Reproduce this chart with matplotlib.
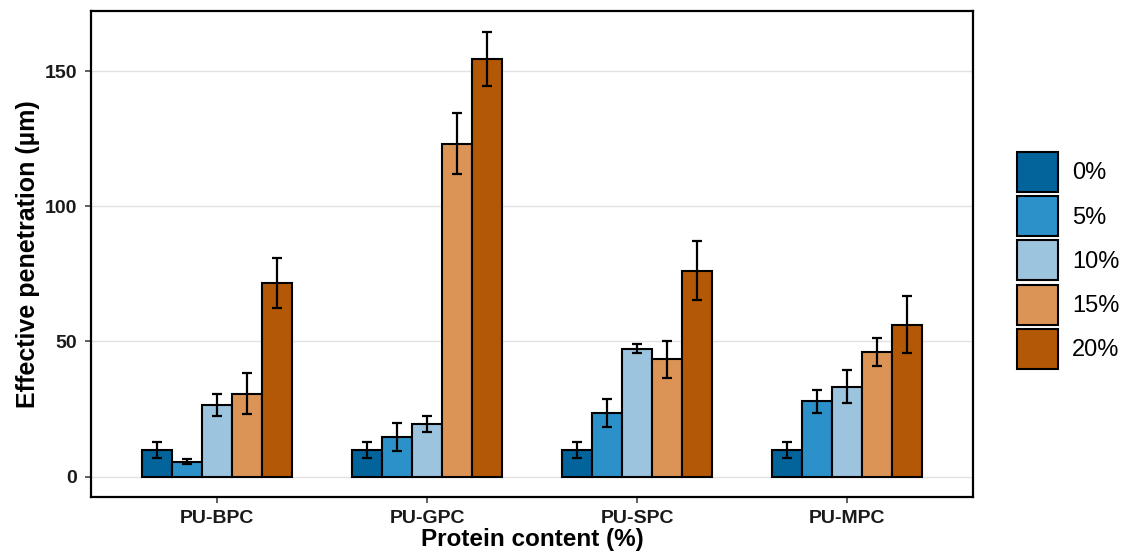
import numpy as np
import matplotlib
matplotlib.use("Agg")
import matplotlib.pyplot as plt

plt.rcParams['font.family'] = ['Liberation Sans', 'DejaVu Sans']

# Composite groups and protein loading levels
groups = ["PU-BPC", "PU-GPC", "PU-SPC", "PU-MPC"]
levels = ["0%", "5%", "10%", "15%", "20%"]

# Mean effective penetration (µm) per level, ordered by group
pen_0 = [10.0, 10.0, 10.0, 10.0]
pen_5 = [5.5, 14.6, 23.5, 27.9]
pen_10 = [26.5, 19.5, 47.4, 33.3]
pen_15 = [30.7, 123.2, 43.4, 46.0]
pen_20 = [71.6, 154.3, 76.2, 56.2]

# Standard deviations
sd_0 = [3.0, 3.0, 3.0, 3.0]
sd_5 = [0.9, 5.2, 5.2, 4.3]
sd_10 = [4.0, 2.8, 1.7, 6.0]
sd_15 = [7.6, 11.2, 6.8, 5.2]
sd_20 = [9.3, 10.0, 10.9, 10.5]

means = [pen_0, pen_5, pen_10, pen_15, pen_20]
sds = [sd_0, sd_5, sd_10, sd_15, sd_20]
colors = ["#03639B", "#2C91C8", "#9CC4DE", "#DB9456", "#B35806"]

fig = plt.figure(figsize=(11.25, 5.59), dpi=100)
ax = fig.add_axes([0.0809, 0.1109, 0.8649 - 0.0809, 0.9803 - 0.1109])

x = np.arange(1, len(groups) + 1)
width = 0.142
offsets = (np.arange(len(levels)) - (len(levels) - 1) / 2) * width

for i, lvl in enumerate(levels):
    ax.bar(x + offsets[i], means[i], width=width, color=colors[i],
           edgecolor="black", linewidth=1.5, label=lvl, zorder=2)
    ax.errorbar(x + offsets[i], means[i], yerr=sds[i], fmt="none",
                ecolor="black", elinewidth=1.6, capsize=3.4, capthick=1.6,
                zorder=3)

ax.set_xlim(0.4, 4.6)
ax.set_ylim(-7.5, 172.2)
ax.set_xticks(x)
ax.set_xticklabels(groups)
ax.set_yticks([0, 50, 100, 150])

ax.yaxis.grid(True, color="#E2E2E2", linewidth=1.0, zorder=0)
ax.xaxis.grid(False)
ax.set_axisbelow(True)

for sp in ax.spines.values():
    sp.set_linewidth(1.6)
    sp.set_color("black")

ax.tick_params(axis="both", length=4, width=1.1, color="#333333",
               labelsize=14)
ax.tick_params(axis="x", pad=5)
ax.tick_params(axis="y", pad=6)
for lab in ax.get_xticklabels() + ax.get_yticklabels():
    lab.set_fontweight("bold")
    lab.set_color("#1a1a1a")

ax.set_xlabel("Protein content (%)", fontsize=17.5, fontweight="bold", labelpad=1)
ax.set_ylabel("Effective penetration (µm)", fontsize=18, fontweight="bold",
              labelpad=3)

fig.legend(loc="center left", bbox_to_anchor=(0.904, 0.534), frameon=False,
           fontsize=17, handlelength=1.72, handleheight=2.23,
           labelspacing=0.18, handletextpad=0.6, borderpad=0, borderaxespad=0)

fig.savefig("out.png", dpi=100)
